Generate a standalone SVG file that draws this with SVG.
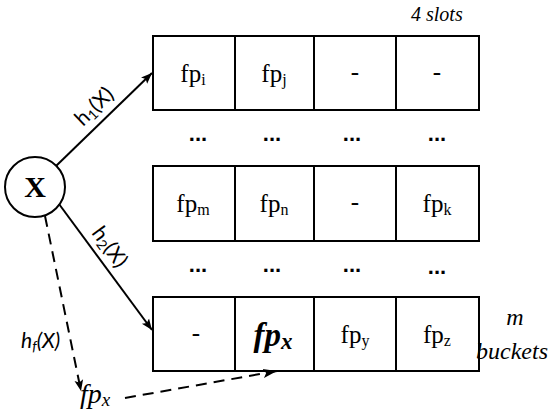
<svg xmlns="http://www.w3.org/2000/svg" width="550" height="419" viewBox="0 0 550 419">
<defs>
<marker id="ah" viewBox="0 0 10 10" refX="10" refY="5" markerWidth="11" markerHeight="11" markerUnits="userSpaceOnUse" orient="auto">
<path d="M0,1 L10,5 L0,9 L2,5 Z" fill="#000"/>
</marker>
<marker id="ah2" viewBox="0 0 14 10" refX="14" refY="5" markerWidth="14" markerHeight="10" markerUnits="userSpaceOnUse" orient="auto">
<path d="M0,0.5 L14,5 L0,9.5 L3,5 Z" fill="#000"/>
</marker>
<style>
.cell{fill:#fff;stroke:#000;stroke-width:2}
.t{font-family:"Liberation Serif",serif;font-size:25px;text-anchor:middle}
.sub{font-size:16px}
.dots{font-family:"Liberation Sans",sans-serif;font-size:22px;font-weight:bold;text-anchor:middle}
.lbl{font-family:Lato,"Liberation Sans",sans-serif;font-size:21px}
.lsub{font-size:14px}
.it{font-family:"Liberation Serif",serif;font-style:italic}
.edge{stroke:#000;stroke-width:2;fill:none}
.dash{stroke-dasharray:11,7}
</style>
</defs>
<g id="node-x">
<circle cx="35" cy="187" r="30" fill="#fff" stroke="#000" stroke-width="2"/>
<text x="35" y="197" style="font-family:'Liberation Serif',serif;font-weight:bold;font-size:30px;text-anchor:middle">X</text>
</g>
<g id="bucket-1">
<rect class="cell" x="153" y="36" width="82" height="74"/>
<rect class="cell" x="235" y="36" width="79" height="74"/>
<rect class="cell" x="314" y="36" width="82" height="74"/>
<rect class="cell" x="396" y="36" width="83" height="74"/>
<text class="t" x="193" y="82">fp<tspan class="sub" dy="3">i</tspan></text>
<text class="t" x="274" y="82">fp<tspan class="sub" dy="3">j</tspan></text>
<text class="t" x="355" y="80">-</text>
<text class="t" x="437" y="80">-</text>
</g>
<g id="dots-1">
<text class="dots" x="198" y="141">...</text>
<text class="dots" x="272" y="141">...</text>
<text class="dots" x="352" y="141">...</text>
<text class="dots" x="437" y="141">...</text>
</g>
<g id="bucket-2">
<rect class="cell" x="153" y="166" width="82" height="75"/>
<rect class="cell" x="235" y="166" width="79" height="75"/>
<rect class="cell" x="314" y="166" width="82" height="75"/>
<rect class="cell" x="396" y="166" width="83" height="75"/>
<text class="t" x="193" y="212">fp<tspan class="sub" dy="3">m</tspan></text>
<text class="t" x="274" y="212">fp<tspan class="sub" dy="3">n</tspan></text>
<text class="t" x="355" y="210">-</text>
<text class="t" x="437" y="212">fp<tspan class="sub" dy="3">k</tspan></text>
</g>
<g id="dots-2">
<text class="dots" x="198" y="272">...</text>
<text class="dots" x="272" y="272">...</text>
<text class="dots" x="352" y="272">...</text>
<text class="dots" x="437" y="274">...</text>
</g>
<g id="bucket-3">
<rect class="cell" x="153" y="297" width="82" height="74"/>
<rect class="cell" x="235" y="297" width="79" height="74"/>
<rect class="cell" x="314" y="297" width="82" height="74"/>
<rect class="cell" x="396" y="297" width="83" height="74"/>
<text class="t" x="196" y="341">-</text>
<text x="273" y="346" style="font-family:'Liberation Serif',serif;font-style:italic;font-weight:bold;font-size:33px;text-anchor:middle">fp<tspan style="font-size:23px" dy="3">x</tspan></text>
<text class="t" x="355" y="343">fp<tspan class="sub" dy="3">y</tspan></text>
<text class="t" x="437" y="343">fp<tspan class="sub" dy="3">z</tspan></text>
</g>
<g id="labels">
<text class="it" x="411" y="21" style="font-size:20px">4  slots</text>
<text class="it" x="515" y="325" style="text-anchor:middle;font-size:24px">m</text>
<text class="it" x="512" y="359" style="text-anchor:middle;font-size:24px">buckets</text>
<text class="it" x="80" y="403" style="font-size:28px">fp<tspan style="font-size:19px" dy="3">x</tspan></text>
</g>
<g id="connectors">
<line class="edge" x1="56" y1="166" x2="152" y2="73" marker-end="url(#ah)"/>
<line class="edge" x1="59" y1="204" x2="152" y2="330" marker-end="url(#ah)"/>
<path class="edge dash" d="M45,216 L81,391" marker-end="url(#ah)"/>
<path class="edge dash" d="M125,398 L277,371" marker-end="url(#ah2)"/>
<text class="lbl" transform="translate(83,127) rotate(-44)">h<tspan class="lsub" dy="3">1</tspan><tspan dy="-3">(X)</tspan></text>
<text class="lbl" transform="translate(91,233) rotate(54)">h<tspan class="lsub" dy="3">2</tspan><tspan dy="-3">(X)</tspan></text>
<text class="lbl" x="21" y="348" style="font-style:italic">h<tspan class="lsub" dy="3">f</tspan><tspan dy="-3">(X)</tspan></text>
</g>
</svg>
